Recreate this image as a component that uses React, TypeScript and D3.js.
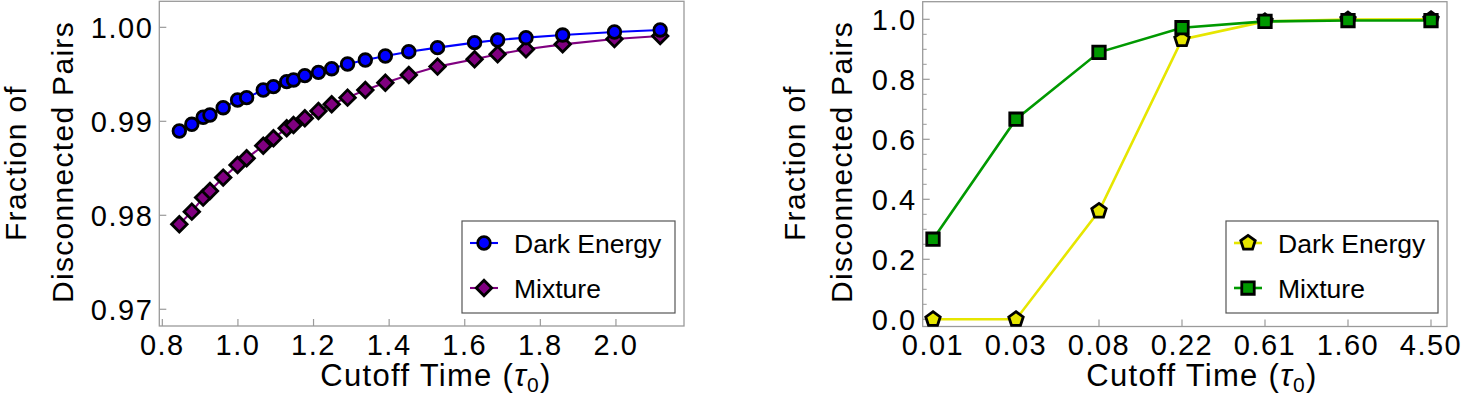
import React from "react"
import * as d3 from "d3"

// Left panel data (cutoff time in tau_0)
const cutoffLeft = [0.845, 0.878, 0.908, 0.926, 0.961, 0.999, 1.023, 1.067, 1.094, 1.129, 1.147, 1.177, 1.213, 1.248, 1.29, 1.337, 1.39, 1.452, 1.528, 1.626, 1.687, 1.762, 1.859, 1.996, 2.117]
const darkEnergyLeft = [0.98897, 0.98968, 0.99043, 0.99067, 0.99145, 0.99227, 0.99252, 0.99333, 0.99369, 0.99422, 0.9944, 0.99486, 0.99521, 0.9956, 0.9961, 0.99652, 0.99695, 0.99741, 0.99784, 0.99837, 0.99865, 0.9989, 0.99918, 0.9995, 0.99972]
const mixtureLeft = [0.97904, 0.98039, 0.98188, 0.98259, 0.98401, 0.98535, 0.98606, 0.98741, 0.98819, 0.98926, 0.98961, 0.99032, 0.9911, 0.99181, 0.99252, 0.99333, 0.99411, 0.99493, 0.99582, 0.9966, 0.99713, 0.99766, 0.99819, 0.99876, 0.99908]
const xTicksLeft = [0.8, 1.0, 1.2, 1.4, 1.6, 1.8, 2.0]
const yTicksLeft = [0.97, 0.98, 0.99, 1.0]

// Right panel data
const cutoffRight = ["0.01", "0.03", "0.08", "0.22", "0.61", "1.60", "4.50"]
const darkEnergyRight = [0, 0, 0.361, 0.933, 0.993, 0.999, 1.0]
const mixtureRight = [0.267, 0.667, 0.89, 0.972, 0.993, 0.996, 0.996]
const yTicksRight = [0, 0.2, 0.4, 0.6, 0.8, 1.0]
const yMinorRight = [0.05, 0.1, 0.15, 0.25, 0.3, 0.35, 0.45, 0.5, 0.55, 0.65, 0.7, 0.75, 0.85, 0.9, 0.95]

const seriesNames = ["Dark Energy", "Mixture"]

const FONT = "'Liberation Sans', Arial, Helvetica, sans-serif"
const FRAME = "#9a9a9a"

const pentagon = (r: number) => {
  const pts = d3.range(5).map(k => {
    const a = -Math.PI / 2 + (k * 2 * Math.PI) / 5
    return [r * Math.cos(a), r * Math.sin(a)]
  })
  return "M" + pts.map(p => p.join(",")).join("L") + "Z"
}

const circlePath = d3.symbol(d3.symbolCircle, 125)()
const diamondPath = d3.symbol(d3.symbolSquare, 120)()
const squarePath = d3.symbol(d3.symbolSquare, 155)()
const pentPath = pentagon(7.6)

const Marker = ({ kind, x, y, fill }: any) => {
  const d = kind === "circle" ? circlePath : kind === "diamond" ? diamondPath : kind === "square" ? squarePath : pentPath
  const rot = kind === "diamond" ? " rotate(45)" : ""
  return <path d={d} transform={`translate(${x},${y})${rot}`} fill={fill} stroke="#000" strokeWidth={2.8} strokeLinejoin="miter" />
}

const YTitle = ({ x }: { x: number }) => (
  <g fontFamily={FONT} fontSize={30} letterSpacing={1.3} fill="#000" textAnchor="middle">
    <text transform={`translate(${x + 23},163) rotate(-90)`}>Fraction of</text>
    <text transform={`translate(${x + 70},162) rotate(-90)`}>Disconnected Pairs</text>
  </g>
)

const XTitle = ({ cx }: { cx: number }) => (
  <text x={cx} y={386} textAnchor="middle" fontFamily={FONT} fontSize={31} letterSpacing={1.3} fill="#000">
    Cutoff Time (<tspan fontStyle="italic">τ</tspan>
    <tspan fontSize={21} dy={6}>0</tspan>
    <tspan dy={-6}>)</tspan>
  </text>
)

const Legend = ({ x0, x1, items }: any) => {
  const rows = [243, 288]
  return (
    <g>
      <rect x={x0} y={221} width={x1 - x0} height={92} fill="#fff" stroke="#555" strokeWidth={1.2} />
      {items.map((it: any, i: number) => (
        <g key={it.name}>
          <line x1={x0 + 8} x2={x0 + 36} y1={rows[i]} y2={rows[i]} stroke={it.line} strokeWidth={it.width} />
          <Marker kind={it.kind} x={x0 + 22} y={rows[i]} fill={it.fill} />
          <text x={x0 + 52} y={rows[i] + 10} fontFamily={FONT} fontSize={26.5} fill="#000">
            {it.name}
          </text>
        </g>
      ))}
    </g>
  )
}

const LeftPanel = () => {
  const fx0 = 159.3, fx1 = 684, fy0 = 1.3, fy1 = 326
  const x = d3.scaleLinear().domain([0.792, 2.18]).range([fx0, fx1])
  const y = d3.scaleLinear().domain([0.96822, 1.00277]).range([fy1, fy0])
  const line = d3.line<number>().x((_, i) => x(cutoffLeft[i])).y(d => y(d))
  return (
    <g>
      <rect x={fx0} y={fy0} width={fx1 - fx0} height={fy1 - fy0} fill="none" stroke={FRAME} strokeWidth={1.3} />
      {yTicksLeft.map(t => (
        <g key={t}>
          <line x1={fx0} x2={fx0 + 7} y1={y(t)} y2={y(t)} stroke={FRAME} strokeWidth={1.2} />
          <text x={fx0 - 6} y={y(t) + 10.5} textAnchor="end" fontFamily={FONT} fontSize={29} letterSpacing={1.5}>
            {d3.format(".2f")(t)}
          </text>
        </g>
      ))}
      {xTicksLeft.map(t => (
        <g key={t}>
          <line x1={x(t)} x2={x(t)} y1={fy1} y2={fy1 - 7} stroke={FRAME} strokeWidth={1.2} />
          <text x={x(t)} y={355} textAnchor="middle" fontFamily={FONT} fontSize={29} letterSpacing={1.5}>
            {d3.format(".1f")(t)}
          </text>
        </g>
      ))}
      <path d={line(mixtureLeft)!} fill="none" stroke="#800080" strokeWidth={2.1} />
      <path d={line(darkEnergyLeft)!} fill="none" stroke="#0000ff" strokeWidth={2.1} />
      {mixtureLeft.map((v, i) => (
        <Marker key={"m" + i} kind="diamond" x={x(cutoffLeft[i])} y={y(v)} fill="#800080" />
      ))}
      {darkEnergyLeft.map((v, i) => (
        <Marker key={"d" + i} kind="circle" x={x(cutoffLeft[i])} y={y(v)} fill="#0000ff" />
      ))}
      <Legend
        x0={462}
        x1={675}
        items={[
          { name: seriesNames[0], kind: "circle", fill: "#0000ff", line: "#0000ff", width: 2.1 },
          { name: seriesNames[1], kind: "diamond", fill: "#800080", line: "#800080", width: 2.1 },
        ]}
      />
      <YTitle x={3} />
      <XTitle cx={436} />
    </g>
  )
}

const RightPanel = () => {
  const fx0 = 922.7, fx1 = 1447, fy0 = 1.7, fy1 = 326.5
  const x = d3.scalePoint<string>().domain(cutoffRight).range([933, 1431])
  const y = d3.scaleLinear().domain([-0.024, 1.0587]).range([fy1, fy0])
  const line = d3.line<number>().x((_, i) => x(cutoffRight[i])!).y(d => y(d))
  return (
    <g>
      <rect x={fx0} y={fy0} width={fx1 - fx0} height={fy1 - fy0} fill="none" stroke={FRAME} strokeWidth={1.3} />
      {yMinorRight.map(t => (
        <line key={t} x1={fx0} x2={fx0 + 4} y1={y(t)} y2={y(t)} stroke={FRAME} strokeWidth={1} />
      ))}
      {yTicksRight.map(t => (
        <g key={t}>
          <line x1={fx0} x2={fx0 + 7} y1={y(t)} y2={y(t)} stroke={FRAME} strokeWidth={1.2} />
          <text x={fx0 - 6} y={y(t) + 10.5} textAnchor="end" fontFamily={FONT} fontSize={29} letterSpacing={1.5}>
            {d3.format(".1f")(t)}
          </text>
        </g>
      ))}
      {cutoffRight.map(c => (
        <g key={c}>
          <line x1={x(c)} x2={x(c)} y1={fy1} y2={fy1 - 7} stroke={FRAME} strokeWidth={1.2} />
          <text x={x(c)} y={355} textAnchor="middle" fontFamily={FONT} fontSize={29} letterSpacing={1.5}>
            {c}
          </text>
        </g>
      ))}
      <path d={line(darkEnergyRight)!} fill="none" stroke="#e6e600" strokeWidth={2.6} />
      <path d={line(mixtureRight)!} fill="none" stroke="#009900" strokeWidth={2.6} />
      {darkEnergyRight.map((v, i) => (
        <Marker key={"d" + i} kind="pentagon" x={x(cutoffRight[i])} y={y(v)} fill="#e6e600" />
      ))}
      {mixtureRight.map((v, i) => (
        <Marker key={"m" + i} kind="square" x={x(cutoffRight[i])} y={y(v)} fill="#009900" />
      ))}
      <Legend
        x0={1226}
        x1={1438}
        items={[
          { name: seriesNames[0], kind: "pentagon", fill: "#e6e600", line: "#e6e600", width: 2.6 },
          { name: seriesNames[1], kind: "square", fill: "#009900", line: "#009900", width: 2.6 },
        ]}
      />
      <YTitle x={782} />
      <XTitle cx={1202} />
    </g>
  )
}

export default function App() {
  return (
    <svg
      width={1465}
      height={419}
      style={{ position: "absolute", left: 0, top: 0, background: "#fff", display: "block" }}
    >
      <LeftPanel />
      <RightPanel />
    </svg>
  )
}
